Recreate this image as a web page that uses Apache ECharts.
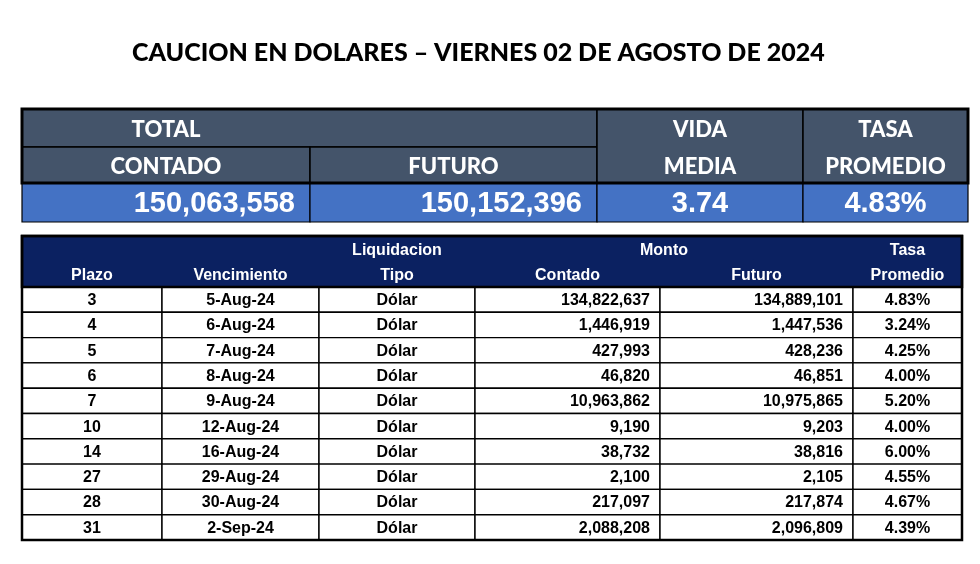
<!DOCTYPE html>
<html>
<head>
<meta charset="utf-8">
<script src="https://cdn.jsdelivr.net/npm/echarts@6/dist/echarts.min.js"></script>
<style>
  html, body { margin: 0; padding: 0; background: #fff; }
  #chart { width: 980px; height: 564px; }
</style>
</head>
<body>
<div id="chart"></div>
<script>
// ---- data ----
const titleText = 'CAUCION EN DOLARES – VIERNES 02 DE AGOSTO DE 2024'

const totalContado = 150063558
const totalFuturo = 150152396
const vidaMedia = 3.74
const tasaPromedio = 4.83

const plazo = [3, 4, 5, 6, 7, 10, 14, 27, 28, 31]
const vencimiento = ['5-Aug-24', '6-Aug-24', '7-Aug-24', '8-Aug-24', '9-Aug-24', '12-Aug-24', '16-Aug-24', '29-Aug-24', '30-Aug-24', '2-Sep-24']
const tipo = ['Dólar', 'Dólar', 'Dólar', 'Dólar', 'Dólar', 'Dólar', 'Dólar', 'Dólar', 'Dólar', 'Dólar']
const montoContado = [134822637, 1446919, 427993, 46820, 10963862, 9190, 38732, 2100, 217097, 2088208]
const montoFuturo = [134889101, 1447536, 428236, 46851, 10975865, 9203, 38816, 2105, 217874, 2096809]
const tasa = [4.83, 3.24, 4.25, 4.00, 5.20, 4.00, 6.00, 4.55, 4.67, 4.39]

// ---- layout / styles ----
const GRAY = '#44546A'
const BLUE = '#4472C4'
const NAVY = '#0B2161'
const HEAD_FONT = 'Lato, "Open Sans", sans-serif'
const NUM_FONT = '"Liberation Sans", Arial, sans-serif'

const fmt = v => v.toLocaleString('en-US')
const pct = v => v.toFixed(2) + '%'

// top table (units = px inside its grid)
const topX = [0, 288, 575, 781, 946]
const topY = [0, 38, 74, 113]
// bottom table
const botX = [0, 140, 297, 453, 638, 831, 940]
const headH = 51
const rowH = 25.3
const botH = headH + rowH * plazo.length

const topRects = [
  { x: [topX[0], topX[2]], y: [topY[0], topY[1]], fill: GRAY, lw: 1.5 },
  { x: [topX[0], topX[1]], y: [topY[1], topY[2]], fill: GRAY, lw: 1.5 },
  { x: [topX[1], topX[2]], y: [topY[1], topY[2]], fill: GRAY, lw: 1.5 },
  { x: [topX[2], topX[3]], y: [topY[0], topY[2]], fill: GRAY, lw: 1.5 },
  { x: [topX[3], topX[4]], y: [topY[0], topY[2]], fill: GRAY, lw: 1.5 },
  { x: [topX[0], topX[1]], y: [topY[2], topY[3]], fill: BLUE, lw: 1.2 },
  { x: [topX[1], topX[2]], y: [topY[2], topY[3]], fill: BLUE, lw: 1.2 },
  { x: [topX[2], topX[3]], y: [topY[2], topY[3]], fill: BLUE, lw: 1.2 },
  { x: [topX[3], topX[4]], y: [topY[2], topY[3]], fill: BLUE, lw: 1.2 },
  { x: [topX[0], topX[4]], y: [topY[0], topY[2]], fill: null, lw: 3 }
]

const mid = (a, b) => (a + b) / 2
const headStyle = { fill: '#fff', fontFamily: HEAD_FONT, fontWeight: 900, fontSize: 22 }
const valStyle = { fill: '#fff', fontFamily: NUM_FONT, fontWeight: 'bold', fontSize: 29 }
const r1 = mid(topY[0], topY[1]) + 2
const r2 = mid(topY[1], topY[2]) + 2
const r3 = mid(topY[2], topY[3]) + 1
const topTexts = [
  { t: 'TOTAL', x: mid(topX[0], topX[1]), y: r1, s: headStyle },
  { t: 'CONTADO', x: mid(topX[0], topX[1]), y: r2, s: headStyle },
  { t: 'FUTURO', x: mid(topX[1], topX[2]), y: r2, s: headStyle },
  { t: 'VIDA', x: mid(topX[2], topX[3]), y: r1, s: headStyle },
  { t: 'MEDIA', x: mid(topX[2], topX[3]), y: r2, s: headStyle },
  { t: 'TASA', x: mid(topX[3], topX[4]), y: r1, s: headStyle },
  { t: 'PROMEDIO', x: mid(topX[3], topX[4]), y: r2, s: headStyle },
  { t: fmt(totalContado), x: topX[1] - 15, y: r3, s: valStyle, align: 'right' },
  { t: fmt(totalFuturo), x: topX[2] - 15, y: r3, s: valStyle, align: 'right' },
  { t: vidaMedia.toFixed(2), x: mid(topX[2], topX[3]), y: r3, s: valStyle },
  { t: pct(tasaPromedio), x: mid(topX[3], topX[4]), y: r3, s: valStyle }
]

const botRects = [{ x: [botX[0], botX[6]], y: [0, headH], fill: NAVY, lw: 0 }]
plazo.forEach((p, i) => {
  for (let c = 0; c < 6; c++) {
    botRects.push({ x: [botX[c], botX[c + 1]], y: [headH + i * rowH, headH + (i + 1) * rowH], fill: '#fff', lw: 1.4 })
  }
})
botRects.push({ x: [botX[0], botX[6]], y: [0, headH], fill: null, lw: 2.5 })
botRects.push({ x: [botX[0], botX[6]], y: [0, botH], fill: null, lw: 2.5 })

const bHead = { fill: '#fff', fontFamily: NUM_FONT, fontWeight: 'bold', fontSize: 16 }
const bCell = { fill: '#000', fontFamily: NUM_FONT, fontWeight: 'bold', fontSize: 16 }
const h1 = 15, h2 = 40
const botTexts = [
  { t: 'Plazo', x: mid(botX[0], botX[1]), y: h2, s: bHead },
  { t: 'Vencimiento', x: mid(botX[1], botX[2]), y: h2, s: bHead },
  { t: 'Liquidacion', x: mid(botX[2], botX[3]), y: h1, s: bHead },
  { t: 'Tipo', x: mid(botX[2], botX[3]), y: h2, s: bHead },
  { t: 'Monto', x: mid(botX[3], botX[5]), y: h1, s: bHead },
  { t: 'Contado', x: mid(botX[3], botX[4]), y: h2, s: bHead },
  { t: 'Futuro', x: mid(botX[4], botX[5]), y: h2, s: bHead },
  { t: 'Tasa', x: mid(botX[5], botX[6]), y: h1, s: bHead },
  { t: 'Promedio', x: mid(botX[5], botX[6]), y: h2, s: bHead }
]
plazo.forEach((p, i) => {
  const y = headH + (i + 0.5) * rowH + 1
  botTexts.push({ t: String(p), x: mid(botX[0], botX[1]), y, s: bCell })
  botTexts.push({ t: vencimiento[i], x: mid(botX[1], botX[2]), y, s: bCell })
  botTexts.push({ t: tipo[i], x: mid(botX[2], botX[3]), y, s: bCell })
  botTexts.push({ t: fmt(montoContado[i]), x: botX[4] - 10, y, s: bCell, align: 'right' })
  botTexts.push({ t: fmt(montoFuturo[i]), x: botX[5] - 10, y, s: bCell, align: 'right' })
  botTexts.push({ t: pct(tasa[i]), x: mid(botX[5], botX[6]), y, s: bCell })
})

const rectSeries = (cells, idx) => ({
  type: 'custom',
  xAxisIndex: idx,
  yAxisIndex: idx,
  silent: true,
  data: cells.map(c => [c.x[0], c.x[1], c.y[0], c.y[1]]),
  renderItem: (params, api) => {
    const c = cells[params.dataIndex]
    const p0 = api.coord([api.value(0), api.value(2)])
    const p1 = api.coord([api.value(1), api.value(3)])
    return {
      type: 'rect',
      shape: { x: p0[0], y: p0[1], width: p1[0] - p0[0], height: p1[1] - p0[1] },
      style: { fill: c.fill || 'none', stroke: c.lw ? '#000' : 'none', lineWidth: c.lw }
    }
  }
})

const textSeries = (items, idx) => ({
  type: 'custom',
  xAxisIndex: idx,
  yAxisIndex: idx,
  silent: true,
  z: 5,
  data: items.map(d => [d.x, d.y]),
  renderItem: (params, api) => {
    const d = items[params.dataIndex]
    const p = api.coord([api.value(0), api.value(1)])
    return {
      type: 'text',
      x: p[0],
      y: p[1],
      style: Object.assign({ text: d.t, align: d.align || 'center', verticalAlign: 'middle' }, d.s)
    }
  }
})

const hiddenAxis = (idx, max, inverse) => ({
  type: 'value', gridIndex: idx, min: 0, max, inverse, show: false
})

const chart = echarts.init(document.getElementById('chart'))
chart.setOption({
  animation: false,
  backgroundColor: '#fff',
  title: {
    text: titleText,
    left: 127,
    top: 35,
    textStyle: { fontFamily: HEAD_FONT, fontWeight: 900, fontSize: 25, color: '#000' }
  },
  grid: [
    { left: 22, top: 109, width: topX[4], height: topY[3] },
    { left: 22, top: 236, width: botX[6], height: botH }
  ],
  xAxis: [hiddenAxis(0, topX[4], false), hiddenAxis(1, botX[6], false)],
  yAxis: [hiddenAxis(0, topY[3], true), hiddenAxis(1, botH, true)],
  series: [
    rectSeries(topRects, 0),
    textSeries(topTexts, 0),
    rectSeries(botRects, 1),
    textSeries(botTexts, 1)
  ]
})
</script>
</body>
</html>
